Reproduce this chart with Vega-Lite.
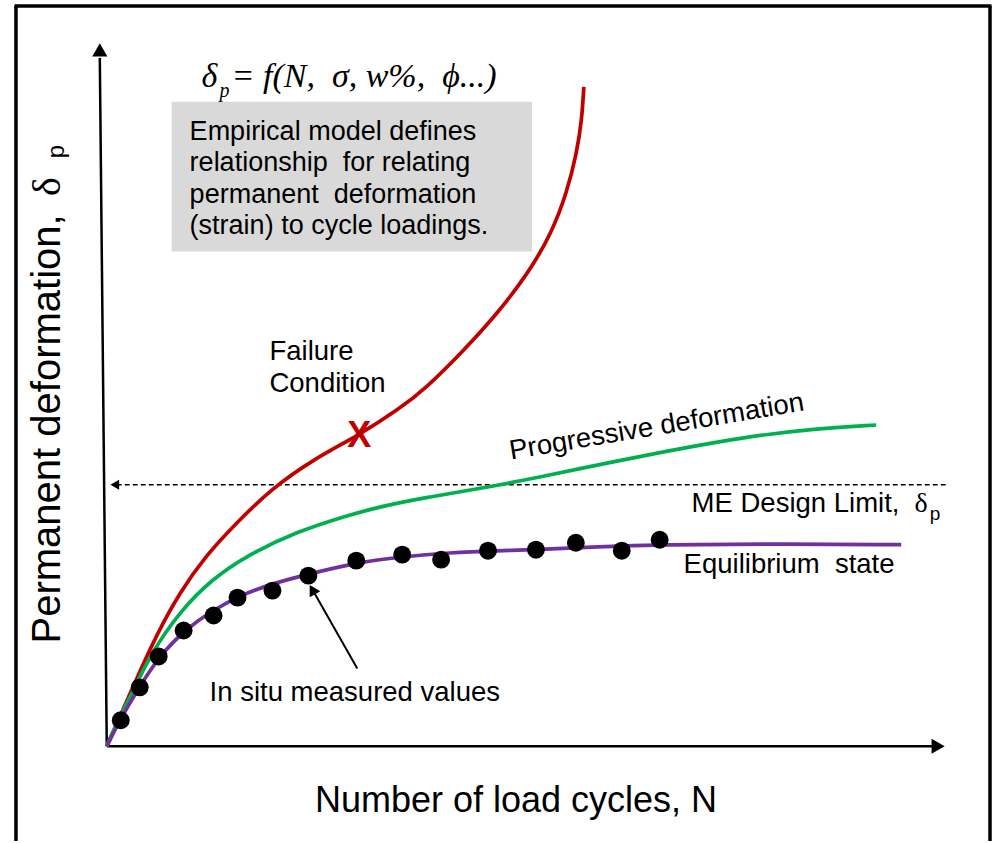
{
  "$schema": "https://vega.github.io/schema/vega-lite/v6.json",
  "width": 994,
  "height": 843,
  "autosize": {"type": "fit", "contains": "padding"},
  "padding": 0,
  "background": "white",
  "config": {"view": {"stroke": null}},
  "datasets": {
    "frame": [
      {"n": -91, "d": 742, "n2": -91, "d2": -95},
      {"n": -92.5, "d": 742, "n2": 886.5, "d2": 742},
      {"n": 885, "d": 742, "n2": 885, "d2": -95}
    ],
    "box": [{"n": 65, "d": 646, "n2": 426, "d2": 496}],
    "axes": [
      {"n": 0, "d": 0, "n2": 830, "d2": 0},
      {"n": 0, "d": 0, "n2": -7, "d2": 690}
    ],
    "limit": [{"n": 10, "d": 262, "n2": 841, "d2": 262}],
    "pointer": [{"n": 251, "d": 78, "n2": 206, "d2": 157}],
    "curves": [
      {"series": "Failure", "order": 0, "n": 0, "d": 0},
      {"series": "Failure", "order": 1, "n": 16, "d": 36},
      {"series": "Failure", "order": 2, "n": 30, "d": 68},
      {"series": "Failure", "order": 3, "n": 50, "d": 112},
      {"series": "Failure", "order": 4, "n": 73, "d": 154},
      {"series": "Failure", "order": 5, "n": 100, "d": 192},
      {"series": "Failure", "order": 6, "n": 130, "d": 224},
      {"series": "Failure", "order": 7, "n": 165, "d": 258},
      {"series": "Failure", "order": 8, "n": 206, "d": 287},
      {"series": "Failure", "order": 9, "n": 253, "d": 312},
      {"series": "Failure", "order": 10, "n": 293, "d": 338},
      {"series": "Failure", "order": 11, "n": 320, "d": 359},
      {"series": "Failure", "order": 12, "n": 356, "d": 395},
      {"series": "Failure", "order": 13, "n": 390, "d": 432},
      {"series": "Failure", "order": 14, "n": 423, "d": 475},
      {"series": "Failure", "order": 15, "n": 446, "d": 515},
      {"series": "Failure", "order": 16, "n": 461, "d": 555},
      {"series": "Failure", "order": 17, "n": 471, "d": 595},
      {"series": "Failure", "order": 18, "n": 476, "d": 628},
      {"series": "Failure", "order": 19, "n": 478, "d": 661},
      {"series": "Progressive", "order": 0, "n": 0, "d": 0},
      {"series": "Progressive", "order": 1, "n": 6, "d": 15},
      {"series": "Progressive", "order": 2, "n": 23, "d": 48},
      {"series": "Progressive", "order": 3, "n": 43, "d": 91},
      {"series": "Progressive", "order": 4, "n": 73, "d": 135},
      {"series": "Progressive", "order": 5, "n": 106, "d": 168},
      {"series": "Progressive", "order": 6, "n": 140, "d": 191},
      {"series": "Progressive", "order": 7, "n": 190, "d": 215},
      {"series": "Progressive", "order": 8, "n": 240, "d": 231},
      {"series": "Progressive", "order": 9, "n": 273, "d": 240},
      {"series": "Progressive", "order": 10, "n": 323, "d": 250},
      {"series": "Progressive", "order": 11, "n": 373, "d": 258},
      {"series": "Progressive", "order": 12, "n": 440, "d": 271},
      {"series": "Progressive", "order": 13, "n": 506, "d": 285},
      {"series": "Progressive", "order": 14, "n": 573, "d": 298},
      {"series": "Progressive", "order": 15, "n": 640, "d": 310},
      {"series": "Progressive", "order": 16, "n": 706, "d": 318},
      {"series": "Progressive", "order": 17, "n": 771, "d": 322},
      {"series": "Equilibrium", "order": 0, "n": 0, "d": 0},
      {"series": "Equilibrium", "order": 1, "n": 14, "d": 28},
      {"series": "Equilibrium", "order": 2, "n": 33, "d": 60},
      {"series": "Equilibrium", "order": 3, "n": 53, "d": 91},
      {"series": "Equilibrium", "order": 4, "n": 80, "d": 118},
      {"series": "Equilibrium", "order": 5, "n": 106, "d": 136},
      {"series": "Equilibrium", "order": 6, "n": 133, "d": 151},
      {"series": "Equilibrium", "order": 7, "n": 166, "d": 163},
      {"series": "Equilibrium", "order": 8, "n": 200, "d": 172},
      {"series": "Equilibrium", "order": 9, "n": 250, "d": 184},
      {"series": "Equilibrium", "order": 10, "n": 296, "d": 190},
      {"series": "Equilibrium", "order": 11, "n": 343, "d": 194},
      {"series": "Equilibrium", "order": 12, "n": 393, "d": 196},
      {"series": "Equilibrium", "order": 13, "n": 430, "d": 197},
      {"series": "Equilibrium", "order": 14, "n": 493, "d": 200},
      {"series": "Equilibrium", "order": 15, "n": 553, "d": 202},
      {"series": "Equilibrium", "order": 16, "n": 673, "d": 203},
      {"series": "Equilibrium", "order": 17, "n": 796, "d": 202}
    ],
    "measured": [
      {"n": 14, "d": 26}, {"n": 33, "d": 59}, {"n": 52, "d": 90}, {"n": 77, "d": 116},
      {"n": 107, "d": 131}, {"n": 131, "d": 149}, {"n": 166, "d": 156}, {"n": 202, "d": 171},
      {"n": 250, "d": 186}, {"n": 296, "d": 192}, {"n": 335, "d": 187}, {"n": 382, "d": 196},
      {"n": 430, "d": 197}, {"n": 470, "d": 204}, {"n": 516, "d": 196}, {"n": 554, "d": 207}
    ]
  },
  "encoding": {
    "x": {"field": "n", "type": "quantitative", "scale": {"domain": [-107, 887], "nice": false, "zero": false}, "axis": null},
    "y": {"field": "d", "type": "quantitative", "scale": {"domain": [-95, 748], "nice": false, "zero": false}, "axis": null}
  },
  "layer": [
    {
      "data": {"name": "box"},
      "mark": {"type": "rect", "fill": "#d9d9d9"},
      "encoding": {"x2": {"field": "n2"}, "y2": {"field": "d2"}}
    },
    {
      "data": {"name": "frame"},
      "mark": {"type": "rule", "color": "black", "strokeWidth": 3.5},
      "encoding": {"x2": {"field": "n2"}, "y2": {"field": "d2"}}
    },
    {
      "data": {"name": "axes"},
      "mark": {"type": "rule", "color": "black", "strokeWidth": 2.5},
      "encoding": {"x2": {"field": "n2"}, "y2": {"field": "d2"}}
    },
    {
      "data": {"values": [{"n": 833, "d": 0}]},
      "mark": {"type": "point", "shape": "triangle-right", "filled": true, "color": "black", "size": 230, "opacity": 1}
    },
    {
      "data": {"values": [{"n": -7, "d": 698}]},
      "mark": {"type": "point", "shape": "triangle-up", "filled": true, "color": "black", "size": 230, "opacity": 1}
    },
    {
      "data": {"name": "limit"},
      "mark": {"type": "rule", "color": "black", "strokeWidth": 1.5, "strokeDash": [5, 3]},
      "encoding": {"x2": {"field": "n2"}, "y2": {"field": "d2"}}
    },
    {
      "data": {"values": [{"n": 8, "d": 262}]},
      "mark": {"type": "point", "shape": "triangle-left", "filled": true, "color": "black", "size": 100, "opacity": 1}
    },
    {
      "data": {"name": "curves"},
      "mark": {"type": "line", "strokeWidth": 3.7, "interpolate": "basis"},
      "encoding": {
        "color": {"field": "series", "type": "nominal", "scale": {"domain": ["Failure", "Progressive", "Equilibrium"], "range": ["#c00000", "#00b050", "#7030a0"]}, "legend": null},
        "order": {"field": "order", "type": "quantitative"}
      }
    },
    {
      "data": {"name": "measured"},
      "mark": {"type": "point", "shape": "circle", "filled": true, "color": "black", "size": 320, "opacity": 1}
    },
    {
      "data": {"name": "pointer"},
      "mark": {"type": "rule", "color": "black", "strokeWidth": 2},
      "encoding": {"x2": {"field": "n2"}, "y2": {"field": "d2"}}
    },
    {
      "data": {"values": [{"n": 206, "d": 157}]},
      "mark": {"type": "point", "shape": "triangle-up", "filled": true, "color": "black", "size": 150, "angle": -30, "opacity": 1}
    },
    {
      "data": {"values": [{"n": 253, "d": 311, "label": "X"}]},
      "mark": {"type": "text", "font": "Liberation Sans", "fontWeight": "bold", "fontSize": 36, "color": "#c00000", "align": "center", "baseline": "middle"},
      "encoding": {"text": {"field": "label"}}
    },
    {
      "data": {"values": [
        {"n": 83, "d": 616, "label": "Empirical model defines"},
        {"n": 83, "d": 585, "label": "relationship\u00a0 for relating"},
        {"n": 83, "d": 553, "label": "permanent\u00a0 deformation"},
        {"n": 83, "d": 521, "label": "(strain) to cycle loadings."}
      ]},
      "mark": {"type": "text", "font": "Liberation Sans", "fontSize": 27, "color": "black", "align": "left", "baseline": "middle"},
      "encoding": {"text": {"field": "label"}}
    },
    {
      "data": {"values": [
        {"n": 163, "d": 395, "label": "Failure"},
        {"n": 163, "d": 363, "label": "Condition"},
        {"n": 578, "d": 182, "label": "Equilibrium\u00a0 state"},
        {"n": 103, "d": 53, "label": "In situ measured values"},
        {"n": 586, "d": 243, "label": "ME Design Limit,"}
      ]},
      "mark": {"type": "text", "font": "Liberation Sans", "fontSize": 27.5, "color": "black", "align": "left", "baseline": "middle"},
      "encoding": {"text": {"field": "label"}}
    },
    {
      "data": {"values": [{"n": 551, "d": 320, "label": "Progressive deformation"}]},
      "mark": {"type": "text", "font": "Liberation Sans", "fontSize": 27.5, "color": "black", "align": "center", "baseline": "middle", "angle": -9.5},
      "encoding": {"text": {"field": "label"}}
    },
    {
      "data": {"values": [{"n": 816, "d": 243, "label": "δ"}]},
      "mark": {"type": "text", "font": "Liberation Serif", "fontSize": 28, "color": "black", "align": "center", "baseline": "middle"},
      "encoding": {"text": {"field": "label"}}
    },
    {
      "data": {"values": [{"n": 830, "d": 233, "label": "p"}]},
      "mark": {"type": "text", "font": "Liberation Sans", "fontSize": 19, "color": "black", "align": "center", "baseline": "middle"},
      "encoding": {"text": {"field": "label"}}
    },
    {
      "data": {"values": [{"n": 410, "d": -55, "label": "Number of load cycles, N"}]},
      "mark": {"type": "text", "font": "Liberation Sans", "fontSize": 36, "color": "black", "align": "center", "baseline": "middle"},
      "encoding": {"text": {"field": "label"}}
    },
    {
      "data": {"values": [{"n": -59, "d": 103, "label": "Permanent deformation,"}]},
      "mark": {"type": "text", "font": "Liberation Sans", "fontSize": 40, "color": "black", "align": "left", "baseline": "middle", "angle": -90},
      "encoding": {"text": {"field": "label"}}
    },
    {
      "data": {"values": [{"n": -59, "d": 561, "label": "δ"}]},
      "mark": {"type": "text", "font": "Liberation Serif", "fontSize": 40, "color": "black", "align": "center", "baseline": "middle", "angle": -90},
      "encoding": {"text": {"field": "label"}}
    },
    {
      "data": {"values": [{"n": -50, "d": 596, "label": "p"}]},
      "mark": {"type": "text", "font": "Liberation Sans", "fontSize": 24, "color": "black", "align": "center", "baseline": "middle", "angle": -90},
      "encoding": {"text": {"field": "label"}}
    },
    {
      "data": {"values": [{"n": 95, "d": 671, "label": "δ"}, {"n": 125, "d": 671, "label": "= f(N,\u00a0 σ, w%,\u00a0 ϕ...)"}]},
      "mark": {"type": "text", "font": "Liberation Serif", "fontStyle": "italic", "fontSize": 34, "color": "black", "align": "left", "baseline": "middle"},
      "encoding": {"text": {"field": "label"}}
    },
    {
      "data": {"values": [{"n": 113, "d": 657, "label": "p"}]},
      "mark": {"type": "text", "font": "Liberation Serif", "fontStyle": "italic", "fontSize": 20, "color": "black", "align": "left", "baseline": "middle"},
      "encoding": {"text": {"field": "label"}}
    }
  ]
}
